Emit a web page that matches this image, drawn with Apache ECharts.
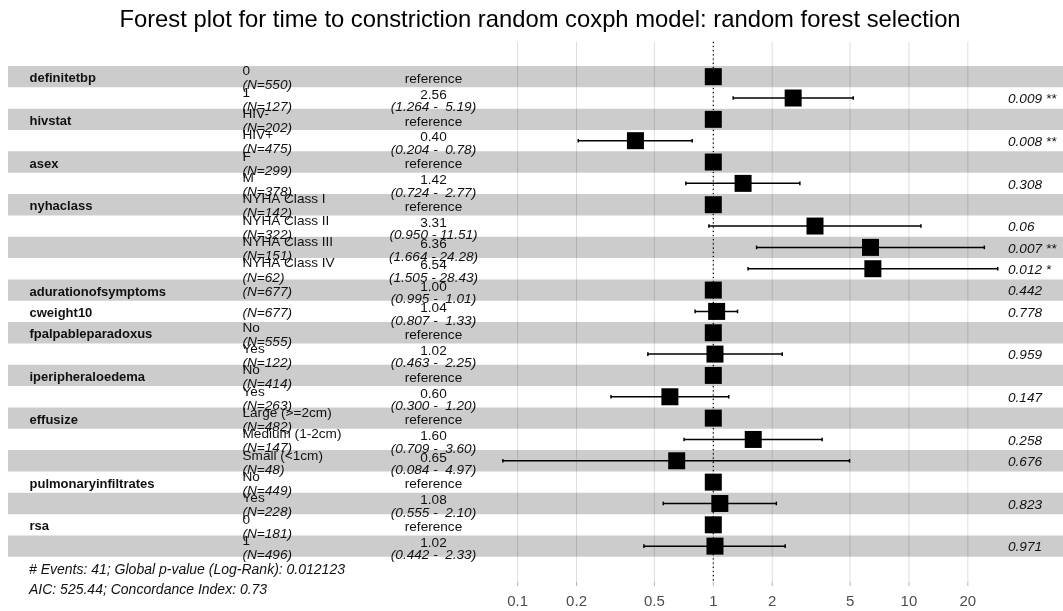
<!DOCTYPE html>
<html>
<head>
<meta charset="utf-8">
<script src="https://cdn.jsdelivr.net/npm/echarts@6/dist/echarts.min.js"></script>
<style>html,body{margin:0;padding:0;background:#fff}#chart{width:1063px;height:611px}</style>
</head>
<body>
<div id="chart"></div>
<script>
// ---------------- data ----------------
const chartTitle = 'Forest plot for time to constriction random coxph model: random forest selection';
const rowVariable = ['definitetbp', '', 'hivstat', '', 'asex', '', 'nyhaclass', '', '', '',
  'adurationofsymptoms', 'cweight10', 'fpalpableparadoxus', '', 'iperipheraloedema', '',
  'effusize', '', '', 'pulmonaryinfiltrates', '', 'rsa', ''];
const rowLevel = ['0', '1', 'HIV-', 'HIV+', 'F', 'M', 'NYHA Class I', 'NYHA Class II', 'NYHA Class III', 'NYHA Class IV',
  '', '', 'No', 'Yes', 'No', 'Yes', 'Large (>=2cm)', 'Medium (1-2cm)', 'Small (<1cm)', 'No', 'Yes', '0', '1'];
const rowN = [550, 127, 202, 475, 299, 378, 142, 322, 151, 62, 677, 677, 555, 122, 414, 263, 482, 147, 48, 449, 228, 181, 496];
const hazardRatio = [1, 2.56, 1, 0.40, 1, 1.42, 1, 3.31, 6.36, 6.54, 1.00, 1.04, 1, 1.02, 1, 0.60, 1, 1.60, 0.65, 1, 1.08, 1, 1.02];
const ciLow = [null, 1.264, null, 0.204, null, 0.724, null, 0.950, 1.664, 1.505, 0.995, 0.807, null, 0.463, null, 0.300, null, 0.709, 0.084, null, 0.555, null, 0.442];
const ciHigh = [null, 5.19, null, 0.78, null, 2.77, null, 11.51, 24.28, 28.43, 1.01, 1.33, null, 2.25, null, 1.20, null, 3.60, 4.97, null, 2.10, null, 2.33];
const pValue = [null, 0.009, null, 0.008, null, 0.308, null, 0.06, 0.007, 0.012, 0.442, 0.778, null, 0.959, null, 0.147, null, 0.258, 0.676, null, 0.823, null, 0.971];
const pStars = ['', '**', '', '**', '', '', '', '', '**', '*', '', '', '', '', '', '', '', '', '', '', '', '', ''];
const tickValues = [0.1, 0.2, 0.5, 1, 2, 5, 10, 20];
const tickLabels = ['0.1', '0.2', '0.5', '1', '2', '5', '10', '20'];
const referenceValue = 1;
const footerLines = ['# Events: 41; Global p-value (Log-Rank): 0.012123', 'AIC: 525.44; Concordance Index: 0.73'];

// ---------------- layout ----------------
const FONT = '"Liberation Sans", Arial, Helvetica, sans-serif';
const PX_ONE = 713.3, PX_DECADE = 195.65;
const toAxis = px => (px - PX_ONE) / PX_DECADE;
const GRID_L = 8, GRID_R = 1063, GRID_T = 41.7, GRID_B = 582;
const ROW_TOP = 66, ROW_H = 21.34;
const Y_MIN = (GRID_T - ROW_TOP) / ROW_H + 0.5;
const Y_MAX = (GRID_B - ROW_TOP) / ROW_H + 0.5;
const VAR_X = toAxis(29.5), LEVEL_X = toAxis(242.5), EST_X = toAxis(433.5), P_X = toAxis(1008);
const TXT = 13.6;
const rows = rowLevel.map((_, i) => i + 1);

function txt(text, x, y, opt) {
  return {
    type: 'text',
    style: Object.assign({
      text: text, x: x, y: y, fill: '#111', fontFamily: FONT, fontSize: TXT,
      align: 'left', verticalAlign: 'middle', textAlign: 'left', textVerticalAlign: 'middle'
    }, opt || {})
  };
}

const chart = echarts.init(document.getElementById('chart'), null, {renderer: 'canvas'});
chart.setOption({
  animation: false,
  backgroundColor: '#ffffff',
  grid: {left: GRID_L, right: 1063 - GRID_R, top: GRID_T, bottom: 611 - GRID_B, containLabel: false},
  xAxis: {type: 'value', min: toAxis(GRID_L), max: toAxis(GRID_R), show: false},
  yAxis: {type: 'value', min: Y_MIN, max: Y_MAX, inverse: true, show: false},
  graphic: [
    {type: 'text', x: 540, y: 20, style: {text: chartTitle, fontFamily: FONT, fontSize: 23.8, fill: '#000', align: 'center', verticalAlign: 'middle', textAlign: 'center', textVerticalAlign: 'middle'}},
    {type: 'text', x: 29, y: 570, style: {text: footerLines[0], fontFamily: FONT, fontSize: 14, fontStyle: 'italic', fill: '#111', verticalAlign: 'middle', textVerticalAlign: 'middle'}},
    {type: 'text', x: 29, y: 590, style: {text: footerLines[1], fontFamily: FONT, fontSize: 14, fontStyle: 'italic', fill: '#111', verticalAlign: 'middle', textVerticalAlign: 'middle'}}
  ],
  series: [
    { // vertical grid lines, ticks and tick labels
      type: 'custom', z: 1, clip: false, silent: true,
      data: tickValues.map(v => [Math.log10(v)]),
      renderItem(params, api) {
        const cs = params.coordSys;
        const x = api.coord([api.value(0), 0])[0];
        const label = tickLabels[params.dataIndex];
        return {type: 'group', children: [
          {type: 'line', shape: {x1: x, y1: cs.y, x2: x, y2: cs.y + cs.height}, style: {stroke: '#dedede', lineWidth: 1}},
          {type: 'line', shape: {x1: x, y1: cs.y + cs.height, x2: x, y2: cs.y + cs.height + 4}, style: {stroke: '#b3b3b3', lineWidth: 1}},
          txt(label, x, cs.y + cs.height + 19.5, {align: 'center', textAlign: 'center', fill: '#4d4d4d', fontSize: 15})
        ]};
      }
    },
    { // alternating bands
      type: 'custom', z: 2, silent: true,
      data: rows.filter(r => r % 2 === 1).map(r => [r]),
      renderItem(params, api) {
        const cs = params.coordSys;
        const r = api.value(0);
        const y1 = api.coord([0, r - 0.5])[1];
        const y2 = api.coord([0, r + 0.5])[1];
        return {type: 'rect', shape: {x: cs.x, y: y1, width: cs.width, height: y2 - y1}, style: {fill: 'rgba(0,0,0,0.2)'}};
      }
    },
    { // confidence intervals
      type: 'custom', z: 3, silent: true,
      data: rows.filter(r => ciLow[r - 1] !== null).map(r => [Math.log10(ciLow[r - 1]), Math.log10(ciHigh[r - 1]), r]),
      renderItem(params, api) {
        const r = api.value(2);
        const a = api.coord([api.value(0), r]);
        const b = api.coord([api.value(1), r]);
        const h = api.size([0, 0.17])[1] / 2;
        const st = {stroke: '#000', lineWidth: 1.5};
        return {type: 'group', children: [
          {type: 'line', shape: {x1: a[0], y1: a[1], x2: b[0], y2: b[1]}, style: st},
          {type: 'line', shape: {x1: a[0], y1: a[1] - h, x2: a[0], y2: a[1] + h}, style: st},
          {type: 'line', shape: {x1: b[0], y1: b[1] - h, x2: b[0], y2: b[1] + h}, style: st}
        ]};
      }
    },
    { // point estimates
      type: 'scatter', z: 4, silent: true,
      symbol: 'rect', symbolSize: 17,
      itemStyle: {color: '#000', opacity: 1},
      data: rows.map(r => [Math.log10(hazardRatio[r - 1]), r])
    },
    { // reference line
      type: 'custom', z: 5, silent: true,
      data: [[Math.log10(referenceValue)]],
      renderItem(params, api) {
        const cs = params.coordSys;
        const x = api.coord([api.value(0), 0])[0];
        return {type: 'line', shape: {x1: x, y1: cs.y, x2: x, y2: cs.y + cs.height},
          style: {stroke: '#000', lineWidth: 1.2, lineDash: [1.2, 3]}};
      }
    },
    { // table text
      type: 'custom', z: 6, silent: true, clip: false,
      data: rows.map(r => [r]),
      renderItem(params, api) {
        const i = params.dataIndex;
        const r = api.value(0);
        const cy = api.coord([0, r])[1];
        const xv = api.coord([VAR_X, r])[0];
        const xl = api.coord([LEVEL_X, r])[0];
        const xe = api.coord([EST_X, r])[0];
        const xp = api.coord([P_X, r])[0];
        const ch = [];
        if (rowVariable[i]) ch.push(txt(rowVariable[i], xv, cy + 2, {fontWeight: 'bold', fontSize: 13}));
        const nText = '(N=' + rowN[i] + ')';
        if (rowLevel[i]) {
          ch.push(txt(rowLevel[i], xl, cy - 5));
          ch.push(txt(nText, xl, cy + 9, {fontStyle: 'italic'}));
        } else {
          ch.push(txt(nText, xl, cy + 2, {fontStyle: 'italic'}));
        }
        if (ciLow[i] === null) {
          ch.push(txt('reference', xe, cy + 2.5, {align: 'center', textAlign: 'center'}));
        } else {
          ch.push(txt(hazardRatio[i].toFixed(2), xe, cy - 3, {align: 'center', textAlign: 'center'}));
          const ci = '(' + ciLow[i].toFixed(3) + ' - ' + ciHigh[i].toFixed(2).padStart(5, ' ') + ')';
          ch.push(txt(ci, xe, cy + 9.5, {align: 'center', textAlign: 'center', fontStyle: 'italic'}));
          const p = String(pValue[i]) + (pStars[i] ? ' ' + pStars[i] : '');
          ch.push(txt(p, xp, cy + 1.5, {fontStyle: 'italic'}));
        }
        return {type: 'group', children: ch};
      }
    }
  ]
});
</script>
</body>
</html>
